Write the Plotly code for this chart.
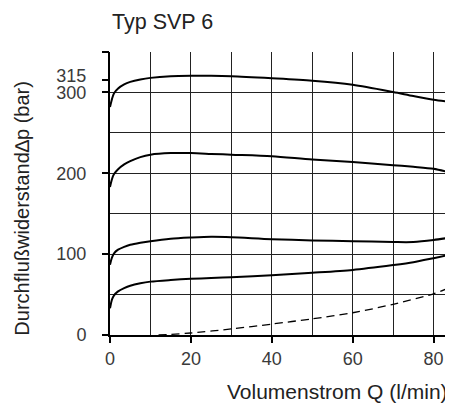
import plotly.graph_objects as go

# Volumenstrom Q (l/min)
Q = [0, 0.5, 1, 2, 3.5, 5, 7.5, 10, 15, 20, 25, 30, 40, 50, 60, 70, 75, 80, 84.8]
# Durchflusswiderstand (bar) for the four pressure settings
p_315 = [282, 292, 299, 305, 310, 313, 316, 318, 320, 320.5, 320.5, 320, 317.5, 314.5, 309.5, 300.5, 295.5, 291, 288]
p_200 = [183, 193, 199, 205, 211, 215, 220, 223, 225, 225, 224, 223, 221, 217, 214, 210, 208, 205.5, 200]
p_100 = [87, 96, 101, 105.5, 109, 111.5, 114, 116, 119, 120.5, 121.5, 121, 118.5, 117, 116, 115, 115, 117.5, 121]
p_50 = [33, 44, 49, 54, 58, 61, 64, 66, 68, 69.5, 70.5, 71.5, 74, 77, 80.5, 86.5, 90, 95, 100]
# dashed curve (free flow)
Q_free = [12, 15, 20, 30, 40, 50, 60, 70, 80, 84.8]
p_free = [0, 0.8, 2.5, 7.5, 13.5, 20, 27.5, 38, 51, 60.5]

x_ticks = [0, 20, 40, 60, 80]
y_ticks = [0, 100, 200, 300, 315, 350]
y_ticktext = ["0", "100", "200", "300", "", ""]
y_extra_tick = [315]
y_extra_text = ["315"]

fig = go.Figure()
for ys in [p_315, p_200, p_100, p_50]:
    fig.add_trace(go.Scatter(x=Q, y=ys, mode="lines",
                             line=dict(color="black", width=2, shape="spline", smoothing=0.8),
                             showlegend=False, hoverinfo="skip"))
fig.add_trace(go.Scatter(x=Q_free, y=p_free, mode="lines",
                         line=dict(color="black", width=1.3, dash="8px,5px", shape="spline", smoothing=0.8),
                         showlegend=False, hoverinfo="skip"))
# carrier traces for tick axes
for ax in ["y2", "y3"]:
    fig.add_trace(go.Scatter(x=[0], y=[0], yaxis=ax, mode="markers", marker=dict(opacity=0),
                             showlegend=False, hoverinfo="skip"))

fam = "Liberation Sans, Arial, sans-serif"
tickfont = dict(family=fam, size=18, color="#3a3a3a")
grid = "#222"

fig.update_layout(
    width=445, height=395,
    margin=dict(l=102, r=0, t=44, b=68, pad=0),
    paper_bgcolor="white", plot_bgcolor="white",
    xaxis=dict(range=[0, 84.8], tickvals=x_ticks, ticks="outside", ticklen=6, tickwidth=1.5,
               tickcolor="black", showgrid=True, gridcolor=grid, gridwidth=1,
               minor=dict(dtick=10, tick0=0, showgrid=True, gridcolor=grid, gridwidth=1, ticks=""),
               showline=True, linecolor="black", linewidth=2, zeroline=False,
               tickfont=tickfont, fixedrange=True, automargin=False),
    yaxis=dict(range=[0, 350], tickvals=list(range(0, 351, 50)), ticks="", showticklabels=False,
               showgrid=True, gridcolor=grid, gridwidth=1, showline=True, linecolor="black",
               linewidth=2, zeroline=False, fixedrange=True, automargin=False),
    yaxis2=dict(range=[0, 350], overlaying="y", side="left", anchor="x", tickvals=y_ticks,
                ticktext=y_ticktext, ticks="outside", ticklen=7, tickwidth=1.5, tickcolor="black",
                showgrid=False, showline=False, zeroline=False, tickfont=tickfont,
                ticklabelstandoff=12, fixedrange=True, automargin=False),
    yaxis3=dict(range=[-6, 344], overlaying="y", side="left", anchor="x", tickvals=y_extra_tick,
                ticktext=y_extra_text, ticks="outside", ticklen=7, tickcolor="rgba(0,0,0,0)",
                showgrid=False, showline=False, zeroline=False, tickfont=tickfont,
                ticklabelstandoff=12, fixedrange=True, automargin=False),
    annotations=[
        dict(text="Typ SVP 6", xref="paper", yref="paper", x=0, y=1.106, xanchor="left",
             yanchor="middle", showarrow=False,
             font=dict(family=fam, size=21.5, color="#222")),
        dict(text="Volumenstrom Q (l/min)", xref="paper", yref="paper", x=0.99, y=-0.198,
             xanchor="right", yanchor="middle", showarrow=False,
             font=dict(family=fam, size=21, color="#222")),
        dict(text="Durchflußwiderstand∆p (bar)", xref="paper", yref="paper", x=-0.2566, y=0.45,
             xanchor="center", yanchor="middle", textangle=-90, showarrow=False,
             font=dict(family=fam, size=20, color="#222")),
    ],
)

fig.write_html("out.html")
